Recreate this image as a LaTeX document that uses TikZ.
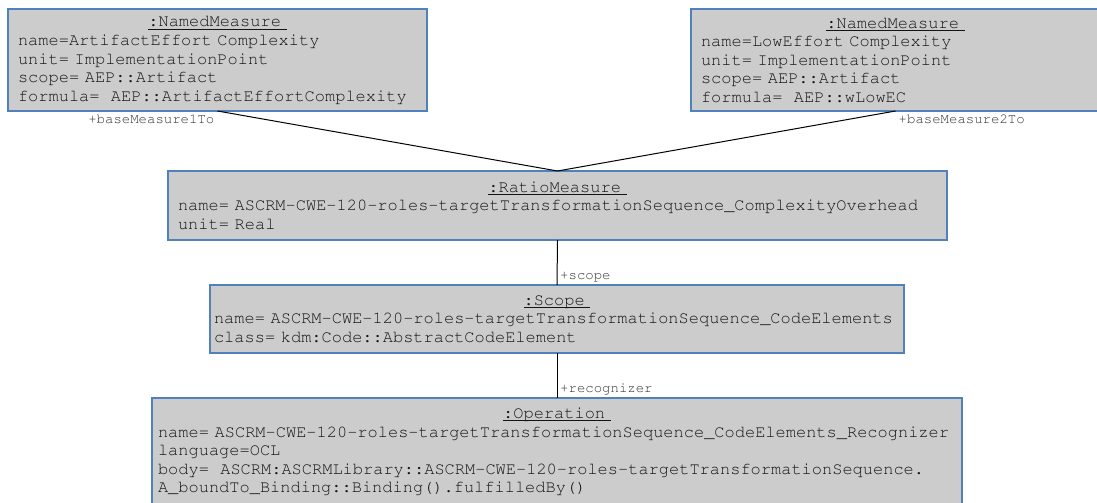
\documentclass[tikz,border=0pt]{standalone}
\usepackage[T1]{fontenc}
\renewcommand\ttdefault{pcr}
\usepackage{tikz}
\definecolor{objfill}{RGB}{204,204,204}
\definecolor{objline}{RGB}{79,129,189}
\definecolor{objtext}{RGB}{20,20,20}
\definecolor{rolegray}{RGB}{50,50,50}
\newcommand\objtitle[1]{\makebox[\hsize]{\setbox0\hbox{#1}\rlap{\rule[-3pt]{\wd0}{1.1pt}}\box0}}

\begin{document}
\begin{tikzpicture}[x=1pt,y=-1pt,
  object/.style={draw=objline,fill=objfill,line width=1.5pt,anchor=north west,
    inner xsep=10pt,inner ysep=3pt,outer sep=0pt,align=left,text=objtext,
    font=\fontsize{17}{18.6}\selectfont\ttfamily},
  role/.style={font=\fontsize{14}{16}\selectfont\ttfamily,text=rolegray,inner sep=3pt},
  link/.style={line width=1pt,black}]
  \useasboundingbox (0,0) rectangle (1097,503);
  \node[object,text width=399pt,minimum height=102pt] (base1) at (8,9)
    {\objtitle{:NamedMeasure~}\\name=ArtifactEffort Complexity\\unit= ImplementationPoint\\scope= AEP::Artifact\\formula=~~AEP::ArtifactEffortComplexity};
  \node[object,text width=389pt,minimum height=102pt] (base2) at (691,9)
    {\objtitle{:NamedMeasure~}\\name=LowEffort Complexity\\unit= ImplementationPoint\\scope= AEP::Artifact\\formula=~~AEP::wLowEC};
  \node[object,text width=759pt,minimum height=69pt] (ratio) at (168,171)
    {\objtitle{:RatioMeasure~}\\name= ASCRM-CWE-120-roles-targetTransformationSequence\_ComplexityOverhead\\unit= Real};
  \node[object,inner xsep=4pt,text width=686pt,minimum height=68pt] (scope) at (210,285)
    {\objtitle{:Scope~}\\name= ASCRM-CWE-120-roles-targetTransformationSequence\_CodeElements\\class= kdm:Code::AbstractCodeElement};
  \node[object,inner xsep=6pt,text width=798pt,minimum height=107pt] (oper) at (152,398)
    {\objtitle{:Operation~}\\name= ASCRM-CWE-120-roles-targetTransformationSequence\_CodeElements\_Recognizer\\language=OCL\\body=~~ASCRM:ASCRMLibrary::ASCRM-CWE-120-roles-targetTransformationSequence.\\A\_boundTo\_Binding::Binding().fulfilledBy()};
  \draw[link] (base1.south) -- (ratio.north);
  \draw[link] (base2.south) -- (ratio.north);
  \draw[link] (ratio.south) -- (scope.north);
  \draw[link] (scope.south) -- (oper.north);
  \node[role,anchor=north east] (base1role) at (base1.south) {+baseMeasure1To};
  \node[role,anchor=north west] (base2role) at (base2.south) {+baseMeasure2To};
  \node[role,anchor=south west] (scoperole) at (scope.north) {+scope};
  \node[role,anchor=south west] (operrole) at (oper.north) {+recognizer};
\end{tikzpicture}
\end{document}
